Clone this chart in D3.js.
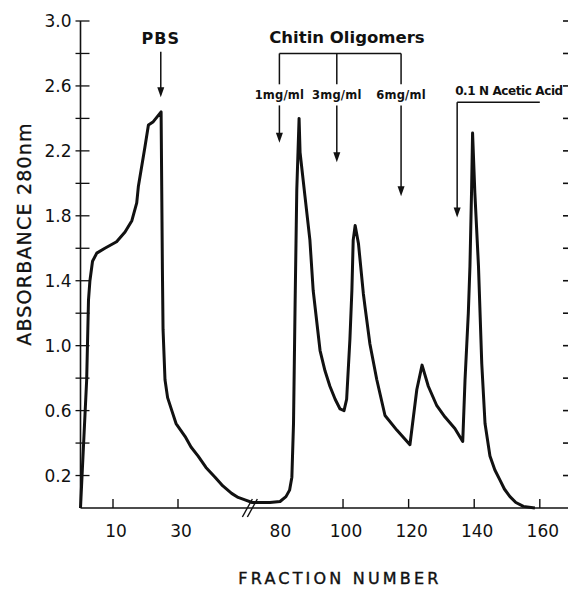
<!DOCTYPE html>
<html>
<head>
<meta charset="utf-8">
<script src="https://cdn.jsdelivr.net/npm/d3@7"></script>
<style>
  body { margin: 0; background: #fff; }
  text { font-family: "DejaVu Sans", sans-serif; fill: #111; }
</style>
</head>
<body>
<div id="chart"></div>
<script>
const WIDTH = 568, HEIGHT = 603;

// elution profile, fraction number vs absorbance at 280 nm
const fractions = [0, 0.55, 1.9, 2.46, 2.9, 3.7, 5.0, 7.5, 11.1, 13.7, 15.8, 17.3, 17.8, 19.8, 20.9, 22.4, 24.8,
  25.2, 25.4, 26.0, 26.8, 28.1, 29.4, 32.2, 34.0, 36.2, 38.6, 41.4, 43.8, 46.5, 48.5, 50.6,
  72.3, 77.7, 80.8, 82.6, 83.7, 84.4, 84.9, 85.4, 85.9, 86.6, 86.9, 88.4, 89.9, 90.9, 93.0, 94.5, 96.0, 97.6, 99.1,
  100.3, 101.1, 102.1, 102.7, 103.1, 103.7, 104.7, 106.2, 106.7, 108.2, 110.3, 112.8, 116.4, 120.4,
  122.5, 124.1, 126.0, 128.6, 131.1, 134.1, 136.5, 137.2, 138.2, 138.7, 139.2, 139.5, 140.2, 141.3,
  142.3, 143.3, 144.8, 146.3, 147.9, 149.2, 150.9, 152.7, 155.0, 158.5]
const absorbance = [0, 0.23, 0.79, 1.28, 1.40, 1.52, 1.57, 1.60, 1.64, 1.70, 1.77, 1.88, 1.98, 2.22, 2.36, 2.38, 2.44,
  1.47, 1.10, 0.79, 0.68, 0.60, 0.52, 0.44, 0.376, 0.32, 0.25, 0.19, 0.136, 0.09, 0.065, 0.05,
  0.034, 0.034, 0.04, 0.07, 0.11, 0.19, 0.52, 1.28, 1.96, 2.40, 2.19, 1.92, 1.65, 1.34, 0.97, 0.845, 0.75, 0.67, 0.61,
  0.60, 0.67, 1.04, 1.34, 1.65, 1.74, 1.63, 1.32, 1.24, 1.01, 0.79, 0.57, 0.48, 0.39,
  0.73, 0.88, 0.75, 0.63, 0.56, 0.49, 0.41, 0.79, 1.20, 1.49, 1.96, 2.31, 1.94, 1.49,
  0.89, 0.52, 0.32, 0.234, 0.17, 0.117, 0.07, 0.034, 0.01, 0]

const yTicks = [0.2, 0.4, 0.6, 0.8, 1.0, 1.2, 1.4, 1.6, 1.8, 2.0, 2.2, 2.4, 2.6, 2.8, 3.0]
const yLabels = [0.2, 0.6, 1.0, 1.4, 1.8, 2.2, 2.6, 3.0]
const xTicks = [10, 30, 100, 120, 140, 160]
const xLabels = [10, 30, 80, 100, 120, 140, 160]

// additions: label, fraction, arrow tip absorbance
const chitinDoses = ["1mg/ml", "3mg/ml", "6mg/ml"]
const chitinFractions = [80.6, 98.1, 117.7]
const chitinTips = [2.25, 2.13, 1.92]

const svg = d3.select("#chart").append("svg").attr("width", WIDTH).attr("height", HEIGHT)

// broken axis: 0-52 then 72-170
const x = d3.scaleLinear().domain([0, 52, 72, 170]).range([80.5, 249.5, 251.2, 572.6])
const y = d3.scaleLinear().domain([0, 3]).range([508, 21])

// y axis
svg.append("line").attr("x1", x(0)).attr("x2", x(0)).attr("y1", y(0)).attr("y2", y(3))
  .attr("stroke", "#111").attr("stroke-width", 1.6)
svg.selectAll(".ytick").data(yTicks).enter().append("line")
  .attr("x1", x(0) - 5).attr("x2", x(0) + 9).attr("y1", d => y(d)).attr("y2", d => y(d))
  .attr("stroke", "#111").attr("stroke-width", 1.3)
svg.selectAll(".rtick").data(yTicks).enter().append("line")
  .attr("x1", WIDTH - 5).attr("x2", WIDTH).attr("y1", d => y(d)).attr("y2", d => y(d))
  .attr("stroke", "#111").attr("stroke-width", 1.6)
svg.selectAll(".ylab").data(yLabels).enter().append("text")
  .attr("x", x(0) - 9).attr("y", d => y(d)).attr("dy", "0.36em").attr("text-anchor", "end")
  .attr("font-size", 17).text(d => d3.format(".1f")(d))

// x axis
svg.append("line").attr("x1", x(0)).attr("x2", WIDTH).attr("y1", y(0)).attr("y2", y(0))
  .attr("stroke", "#111").attr("stroke-width", 1.6)
svg.selectAll(".xtick").data(xTicks).enter().append("line")
  .attr("x1", d => x(d)).attr("x2", d => x(d)).attr("y1", y(0)).attr("y2", y(0) - 9)
  .attr("stroke", "#111").attr("stroke-width", 1.4)
svg.selectAll(".xlab").data(xLabels).enter().append("text")
  .attr("x", d => x(d) + 3).attr("y", 537).attr("text-anchor", "middle")
  .attr("font-size", 17).text(d => d)

// break marks
const brk = (x(52) + x(72)) / 2
;[-3, 2].forEach(off => {
  svg.append("line").attr("x1", brk + off - 5).attr("y1", y(0) + 9).attr("x2", brk + off + 5).attr("y2", y(0) - 9)
    .attr("stroke", "#111").attr("stroke-width", 1.4)
})

// axis titles
svg.append("text").attr("transform", "translate(31," + 234 + ") rotate(-90)")
  .attr("text-anchor", "middle").attr("font-size", 19).attr("letter-spacing", 1.2)
  .attr("stroke", "#111").attr("stroke-width", 0.3)
  .text("ABSORBANCE 280nm")
svg.append("text").attr("x", 340).attr("y", 584).attr("text-anchor", "middle")
  .attr("font-size", 16).attr("letter-spacing", 3.2)
  .attr("stroke", "#111").attr("stroke-width", 0.4).text("FRACTION NUMBER")

// profile
const line = d3.line().x(d => x(d[0])).y(d => y(d[1]))
svg.append("path").datum(d3.zip(fractions, absorbance)).attr("d", line)
  .attr("fill", "none").attr("stroke", "#111").attr("stroke-width", 3).attr("stroke-linejoin", "round")

// arrows
function arrow(xp, y1, y2) {
  svg.append("line").attr("x1", xp).attr("x2", xp).attr("y1", y1).attr("y2", y2 - 8)
    .attr("stroke", "#111").attr("stroke-width", 1.5)
  svg.append("path").attr("d", "M" + (xp - 3.5) + "," + (y2 - 10) + "L" + (xp + 3.5) + "," + (y2 - 10) + "L" + xp + "," + y2 + "Z")
    .attr("fill", "#111")
}

// PBS
svg.append("text").attr("x", x(24.7)).attr("y", y(2.86)).attr("text-anchor", "middle")
  .attr("font-size", 16).attr("font-weight", "bold").attr("letter-spacing", 1).text("PBS")
arrow(x(24.7), y(2.81), y(2.53))

// chitin oligomers bracket
svg.append("text").attr("x", x(101.2)).attr("y", y(2.865)).attr("text-anchor", "middle")
  .attr("font-size", 16.5).attr("font-weight", "bold").text("Chitin Oligomers")
svg.append("line").attr("x1", x(chitinFractions[0])).attr("x2", x(chitinFractions[2]))
  .attr("y1", y(2.8)).attr("y2", y(2.8)).attr("stroke", "#111").attr("stroke-width", 1.5)
chitinDoses.forEach((dose, i) => {
  const xp = x(chitinFractions[i])
  svg.append("line").attr("x1", xp).attr("x2", xp).attr("y1", y(2.8)).attr("y2", y(2.61))
    .attr("stroke", "#111").attr("stroke-width", 1.5)
  svg.append("text").attr("x", xp).attr("y", y(2.52)).attr("text-anchor", "middle")
    .attr("font-size", 11.5).attr("font-weight", "bold").attr("letter-spacing", 0.2).text(dose)
  arrow(xp, y(2.48), y(chitinTips[i]))
})

// acetic acid
svg.append("text").attr("x", 509).attr("y", y(2.545)).attr("text-anchor", "middle")
  .attr("font-size", 12).attr("font-weight", "bold").attr("letter-spacing", -0.4).text("0.1 N Acetic Acid")
svg.append("line").attr("x1", x(134.8)).attr("x2", x(160)).attr("y1", y(2.5)).attr("y2", y(2.5))
  .attr("stroke", "#111").attr("stroke-width", 1.5)
arrow(x(134.8), y(2.5), y(1.79))
</script>
</body>
</html>
